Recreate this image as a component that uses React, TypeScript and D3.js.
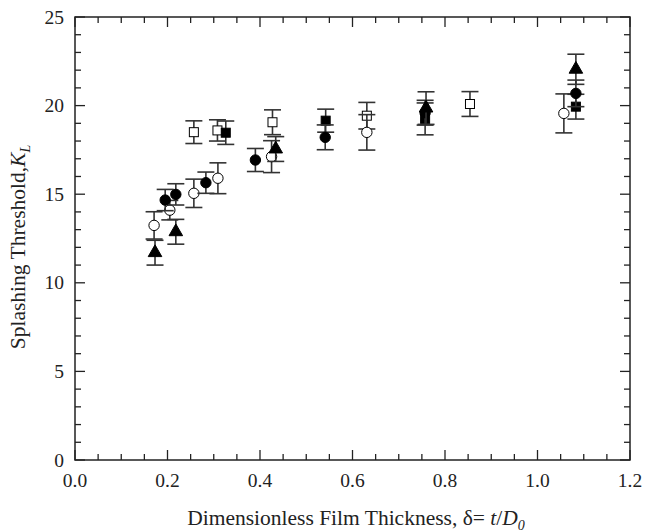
import React, { useEffect, useRef } from 'react';
import * as d3 from 'd3';

// series (x = delta, y = K_L, err = half bar)
const openSqX = [0.257, 0.308, 0.427, 0.631, 0.854];
const openSqY = [18.5, 18.6, 19.06, 19.43, 20.09];
const openSqErr = [0.64, 0.6, 0.7, 0.75, 0.7];

const filledSqX = [0.326, 0.542, 0.757, 1.083];
const filledSqY = [18.47, 19.15, 19.25, 19.94];
const filledSqErr = [0.66, 0.65, 0.9, 0.7];

const openCircX = [0.171, 0.205, 0.257, 0.309, 0.425, 0.631, 1.057];
const openCircY = [13.24, 14.1, 15.05, 15.9, 17.12, 18.49, 19.56];
const openCircErr = [0.77, 0.55, 0.8, 0.87, 0.9, 1.0, 1.1];

const filledCircX = [0.195, 0.218, 0.283, 0.39, 0.541, 0.757, 1.083];
const filledCircY = [14.67, 14.99, 15.65, 16.93, 18.21, 19.6, 20.69];
const filledCircErr = [0.6, 0.6, 0.6, 0.65, 0.7, 0.7, 0.75];

const triX = [0.173, 0.218, 0.434, 0.759, 1.083];
const triY = [11.7, 12.88, 17.55, 19.86, 22.05];
const triErr = [0.7, 0.7, 0.7, 0.92, 0.85];

const xMajor = [0, 0.2, 0.4, 0.6, 0.8, 1.0, 1.2];
const yMajor = [0, 5, 10, 15, 20, 25];

type Shape = 'square' | 'circle' | 'triangle';
const series: { x: number[]; y: number[]; err: number[]; shape: Shape; filled: boolean }[] = [
  { x: openSqX, y: openSqY, err: openSqErr, shape: 'square', filled: false },
  { x: filledSqX, y: filledSqY, err: filledSqErr, shape: 'square', filled: true },
  { x: openCircX, y: openCircY, err: openCircErr, shape: 'circle', filled: false },
  { x: filledCircX, y: filledCircY, err: filledCircErr, shape: 'circle', filled: true },
  { x: triX, y: triY, err: triErr, shape: 'triangle', filled: true },
];

const W = 645, H = 532;
const FONT = '"Liberation Serif", "Times New Roman", serif';
const INK = '#222';

const App: React.FC = () => {
  const svgRef = useRef<SVGSVGElement>(null);

  useEffect(() => {
    if (!svgRef.current) return;
    const svg = d3.select(svgRef.current);
    svg.selectAll('*').remove();

    const left = 75, right = 630, top = 17, bottom = 460;
    const x = d3.scaleLinear().domain([0, 1.2]).range([left, right]);
    const y = d3.scaleLinear().domain([0, 25]).range([bottom, top]);

    const xMinor = d3.range(0, 1.2001, 0.05);
    const yMinor = d3.range(0, 25.001, 1);

    const g = svg.append('g');

    // ticks, inward on all four sides
    const tick = g.append('g').attr('stroke', INK).attr('stroke-width', 1.3);
    xMinor.forEach(v => {
      const major = xMajor.some(m => Math.abs(m - v) < 1e-6);
      const len = major ? 10 : 6;
      tick.append('line').attr('x1', x(v)).attr('x2', x(v)).attr('y1', bottom).attr('y2', bottom - len);
      tick.append('line').attr('x1', x(v)).attr('x2', x(v)).attr('y1', top).attr('y2', top + len);
    });
    yMinor.forEach(v => {
      const major = yMajor.includes(v);
      const len = major ? 10 : 6;
      tick.append('line').attr('y1', y(v)).attr('y2', y(v)).attr('x1', left).attr('x2', left + len);
      tick.append('line').attr('y1', y(v)).attr('y2', y(v)).attr('x1', right).attr('x2', right - len);
    });

    g.append('rect')
      .attr('x', left).attr('y', top)
      .attr('width', right - left).attr('height', bottom - top)
      .attr('fill', 'none').attr('stroke', INK).attr('stroke-width', 1.5);

    // tick labels
    g.selectAll('.xl').data(xMajor).join('text')
      .attr('x', d => x(d)).attr('y', bottom + 27)
      .attr('text-anchor', 'middle')
      .attr('font-family', FONT).attr('font-size', 19.5).attr('fill', INK)
      .text(d => d.toFixed(1));
    g.selectAll('.yl').data(yMajor).join('text')
      .attr('x', left - 11).attr('y', d => y(d) + 6.5)
      .attr('text-anchor', 'end')
      .attr('font-family', FONT).attr('font-size', 19.5).attr('fill', INK)
      .text(d => String(d));

    // axis titles
    const xt = g.append('text')
      .attr('x', 356).attr('y', 525)
      .attr('text-anchor', 'middle')
      .attr('font-family', FONT).attr('font-size', 21.5).attr('fill', INK);
    xt.append('tspan').text('Dimensionless Film Thickness, δ= ');
    xt.append('tspan').attr('font-style', 'italic').text('t');
    xt.append('tspan').text('/');
    xt.append('tspan').attr('font-style', 'italic').text('D');
    xt.append('tspan').attr('font-style', 'italic').attr('font-size', 14).attr('dy', 5).text('0');

    const yt = g.append('text')
      .attr('transform', `translate(25, 247) rotate(-90)`)
      .attr('text-anchor', 'middle')
      .attr('font-family', FONT).attr('font-size', 21.5).attr('fill', INK);
    yt.append('tspan').text('Splashing Threshold,');
    yt.append('tspan').attr('font-style', 'italic').text('K');
    yt.append('tspan').attr('font-style', 'italic').attr('font-size', 14).attr('dy', 5).text('L');

    // data: error bars then markers, series by series
    const cap = 8.5;
    series.forEach(s => {
      const pts = s.x.map((v, i) => ({ x: v, y: s.y[i], e: s.err[i] }));
      const sg = g.append('g');
      const bars = sg.append('g').attr('stroke', '#333').attr('stroke-width', 1.6);
      pts.forEach(p => {
        const cx = x(p.x), y0 = y(p.y - p.e), y1 = y(p.y + p.e);
        bars.append('line').attr('x1', cx).attr('x2', cx).attr('y1', y0).attr('y2', y1);
        bars.append('line').attr('x1', cx - cap).attr('x2', cx + cap).attr('y1', y0).attr('y2', y0);
        bars.append('line').attr('x1', cx - cap).attr('x2', cx + cap).attr('y1', y1).attr('y2', y1);
      });
      const fill = s.filled ? '#000' : '#fff';
      pts.forEach(p => {
        const cx = x(p.x), cy = y(p.y);
        if (s.shape === 'square') {
          sg.append('rect').attr('x', cx - 4.5).attr('y', cy - 4.5).attr('width', 9).attr('height', 9)
            .attr('fill', fill).attr('stroke', '#000').attr('stroke-width', 1);
        } else if (s.shape === 'circle') {
          sg.append('circle').attr('cx', cx).attr('cy', cy).attr('r', 5.2)
            .attr('fill', fill).attr('stroke', '#000').attr('stroke-width', 1);
        } else {
          const sym = d3.symbol().type(d3.symbolTriangle).size(80);
          sg.append('path').attr('d', sym()!).attr('transform', `translate(${cx},${cy})`)
            .attr('fill', fill).attr('stroke', '#000').attr('stroke-width', 1);
        }
      });
    });
  }, []);

  return (
    <svg ref={svgRef} width={W} height={H}
      style={{ position: 'absolute', left: 0, top: 0, display: 'block', background: '#fff' }} />
  );
};

export default App;
